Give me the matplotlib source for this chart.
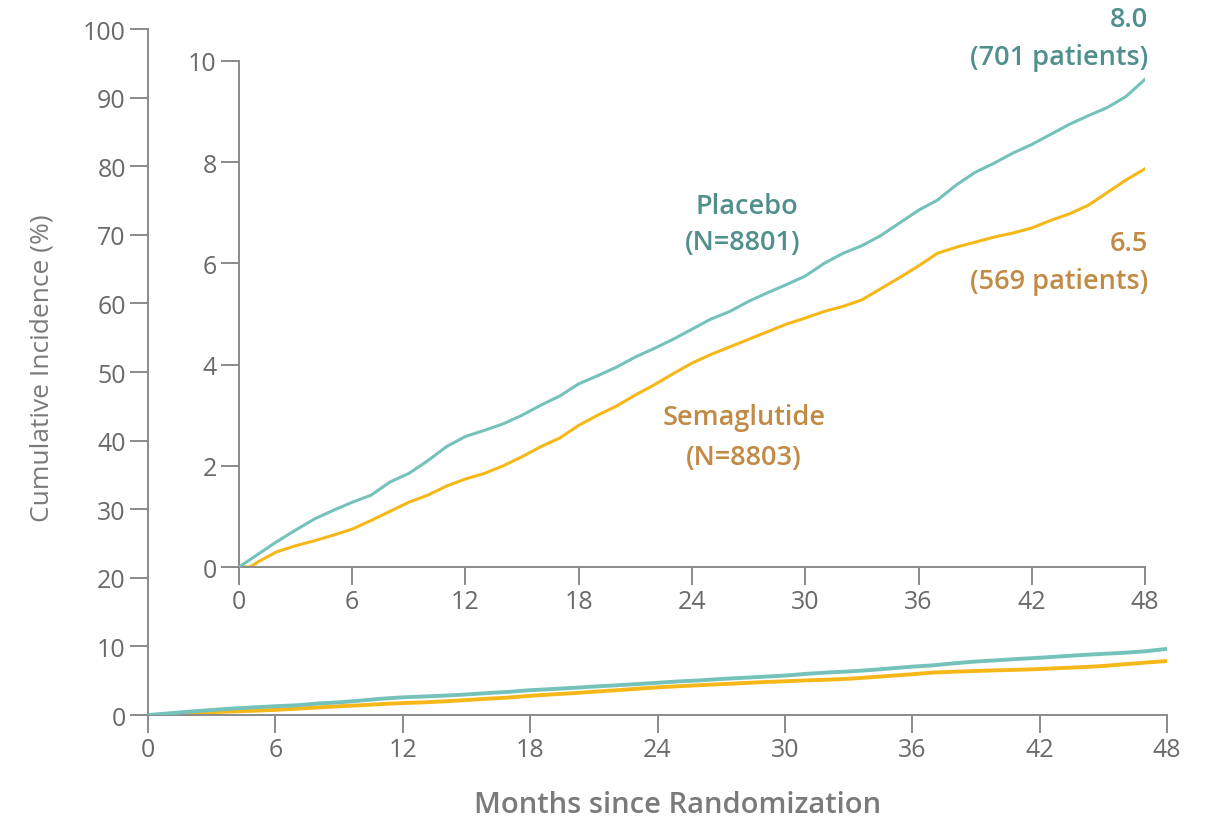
import matplotlib
matplotlib.use("Agg")
import matplotlib.pyplot as plt

# months since randomization and cumulative incidence (%)
months = list(range(0, 49))
placebo = [0.0, 0.25, 0.5, 0.73, 0.95, 1.12, 1.28, 1.42, 1.68, 1.85, 2.1, 2.38, 2.58,
           2.7, 2.83, 3.0, 3.2, 3.38, 3.62, 3.78, 3.95, 4.15, 4.32, 4.5, 4.7,
           4.9, 5.05, 5.25, 5.42, 5.58, 5.75, 6.0, 6.2, 6.35, 6.55, 6.8, 7.05,
           7.25, 7.55, 7.8, 7.98, 8.18, 8.35, 8.55, 8.75, 8.92, 9.08, 9.3, 9.64]
sema_months = [0, 0.6] + list(range(1, 49))
semaglutide = [0.0, 0.0, 0.1, 0.3, 0.42, 0.52, 0.63, 0.75, 0.92, 1.1, 1.28, 1.42, 1.6, 1.74,
               1.85, 2.0, 2.18, 2.38, 2.55, 2.8, 3.0, 3.18, 3.4, 3.6, 3.82, 4.03,
               4.2, 4.35, 4.5, 4.65, 4.8, 4.92, 5.05, 5.15, 5.28, 5.5, 5.72, 5.95,
               6.2, 6.32, 6.42, 6.52, 6.6, 6.7, 6.85, 6.98, 7.15, 7.4, 7.65, 7.87]

x_ticks = [0, 6, 12, 18, 24, 30, 36, 42, 48]
outer_y_ticks = list(range(0, 101, 10))
inset_y_ticks = [0, 2, 4, 6, 8, 10]

TEAL = "#74c2ba"
TEAL_TXT = "#4f8f8c"
GOLD = "#f6b818"
GOLD_TXT = "#c18a45"
AXIS = "#8a8a8a"
TICK_TXT = "#6a6a6a"

plt.rcParams["font.family"] = ["Open Sans", "DejaVu Sans"]

fig = plt.figure(figsize=(12.1, 8.2), dpi=100, facecolor="white")

# full-scale axes (0-100 %)
ax = fig.add_axes([0.1223, 0.1268, 0.8422, 0.8366])
ax.plot(months, placebo, color=TEAL, lw=2.8, solid_capstyle="butt", zorder=3)
ax.plot(sema_months, semaglutide, color=GOLD, lw=2.8, solid_capstyle="butt", zorder=2)
ax.set_xlim(0, 48)
ax.set_ylim(0, 100)
ax.set_xticks(x_ticks)
ax.set_yticks(outer_y_ticks)

# zoomed inset (0-10 %)
ins = fig.add_axes([0.1975, 0.3073, 0.7488, 0.6171])
ins.plot(months, placebo, color=TEAL, lw=2.2, zorder=3)
ins.plot(sema_months, semaglutide, color=GOLD, lw=2.2, zorder=2)
ins.set_xlim(0, 48)
ins.set_ylim(0, 10)
ins.set_xticks(x_ticks)
ins.set_yticks(inset_y_ticks)

for a in (ax, ins):
    for side in ("top", "right"):
        a.spines[side].set_visible(False)
    for side in ("left", "bottom"):
        a.spines[side].set_color(AXIS)
        a.spines[side].set_linewidth(1.4)
    a.tick_params(direction="out", length=13, width=1.4, color=AXIS,
                  labelsize=18, labelcolor=TICK_TXT, pad=3)
    a.patch.set_facecolor("white")

ax.set_ylabel("Cumulative Incidence (%)", fontsize=19, color="#7a7a7a")
ax.yaxis.set_label_coords(-0.104, 0.507)
ax.yaxis.label.set_va("center")
ax.set_xlabel("Months since Randomization", fontsize=21, color="#7a7a7a",
              fontweight="semibold")
ax.xaxis.set_label_coords(0.52, -0.13)
ax.xaxis.label.set_va("center")

# annotations in inset data coordinates
ann = dict(fontsize=19.5, fontweight="semibold")
ins.text(48.15, 10.83, "8.0", ha="right", va="center", color=TEAL_TXT, clip_on=False, **ann)
ins.text(48.15, 10.08, "(701 patients)", ha="right", va="center", color=TEAL_TXT,
         clip_on=False, **ann)
ins.text(26.9, 7.13, "Placebo", ha="center", va="center", color=TEAL_TXT, **ann)
ins.text(26.7, 6.42, "(N=8801)", ha="center", va="center", color=TEAL_TXT, **ann)
ins.text(48.15, 6.40, "6.5", ha="right", va="center", color=GOLD_TXT, clip_on=False, **ann)
ins.text(48.15, 5.65, "(569 patients)", ha="right", va="center", color=GOLD_TXT,
         clip_on=False, **ann)
ins.text(26.75, 2.96, "Semaglutide", ha="center", va="center", color=GOLD_TXT, **ann)
ins.text(26.75, 2.17, "(N=8803)", ha="center", va="center", color=GOLD_TXT, **ann)

fig.savefig("out.png", dpi=100, facecolor="white")
